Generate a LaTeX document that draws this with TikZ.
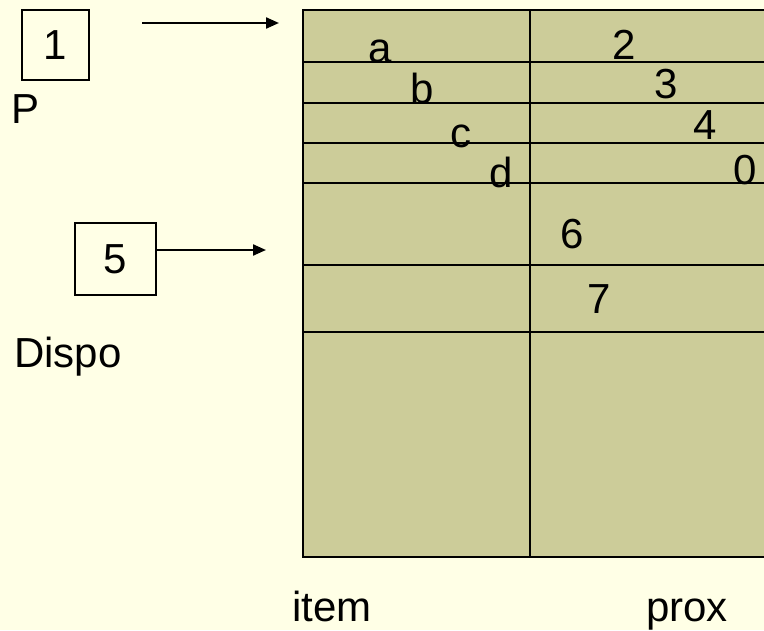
\documentclass[tikz,border=0pt]{standalone}
\usepackage{fontspec}
\setmainfont{Liberation Sans}
\usetikzlibrary{arrows.meta,positioning}
\definecolor{bgyellow}{HTML}{FFFFE6}
\definecolor{cellolive}{HTML}{CCCC99}

\begin{document}
\begin{tikzpicture}[
    x=1pt, y=-1pt,
    box/.style={rectangle, draw=black, line width=2.6pt, inner sep=0pt, font=\fontsize{42}{50}\selectfont},
    lbl/.style={inner sep=0pt, anchor=base, font=\fontsize{42}{50}\selectfont},
    grid/.style={line width=2.6pt, draw=black},
    arr/.style={-{Triangle[length=13pt,width=11pt]}, line width=2.2pt}
]
    \fill [bgyellow] (0,0) rectangle (764,630);
    \useasboundingbox (0,0) rectangle (764,630);
    \clip (0,0) rectangle (764,630);

    % list table
    \fill [cellolive] (303,10) rectangle (775,557);
    \node [lbl] (ia) at (380,62) {a};
    \node [lbl] (ib) at (422,103) {b};
    \node [lbl] (ic) at (461,147) {c};
    \node [lbl] (id) at (501,187) {d};
    \node [lbl] (n2) at (624,59) {2};
    \node [lbl] (n3) at (666,98) {3};
    \node [lbl] (n4) at (705,139) {4};
    \node [lbl] (n0) at (745,184) {0};
    \node [lbl] (n6) at (572,248) {6};
    \node [lbl] (n7) at (599,313) {7};
    \draw [grid] (775,10) -- (303,10) -- (303,557) -- (775,557);
    \foreach \y in {62,103,143,183,265,332}
        \draw [grid] (303,\y) -- (775,\y);
    \draw [grid] (530,10) -- (530,557);

    \node [lbl] (item) at (332,621) {item};
    \node [lbl] (prox) at (687,621) {prox};

    % pointers
    \node [box, minimum width=67pt, minimum height=70pt] (p) at (55.5,45) {1};
    \node [lbl] (plbl) at (26,123) {P};
    \node [box, minimum width=81pt, minimum height=72pt] (dispo) at (115.5,259) {5};
    \node [lbl] (dlbl) at (68,367) {Dispo};

    \coordinate (ps) at (142,23);
    \coordinate (pt) at (279,23);
    \coordinate (dt) at (266,250);
    \draw [arr] (ps) -- (pt);
    \draw [arr] (dt -| dispo.east) -- (dt);
\end{tikzpicture}
\end{document}
